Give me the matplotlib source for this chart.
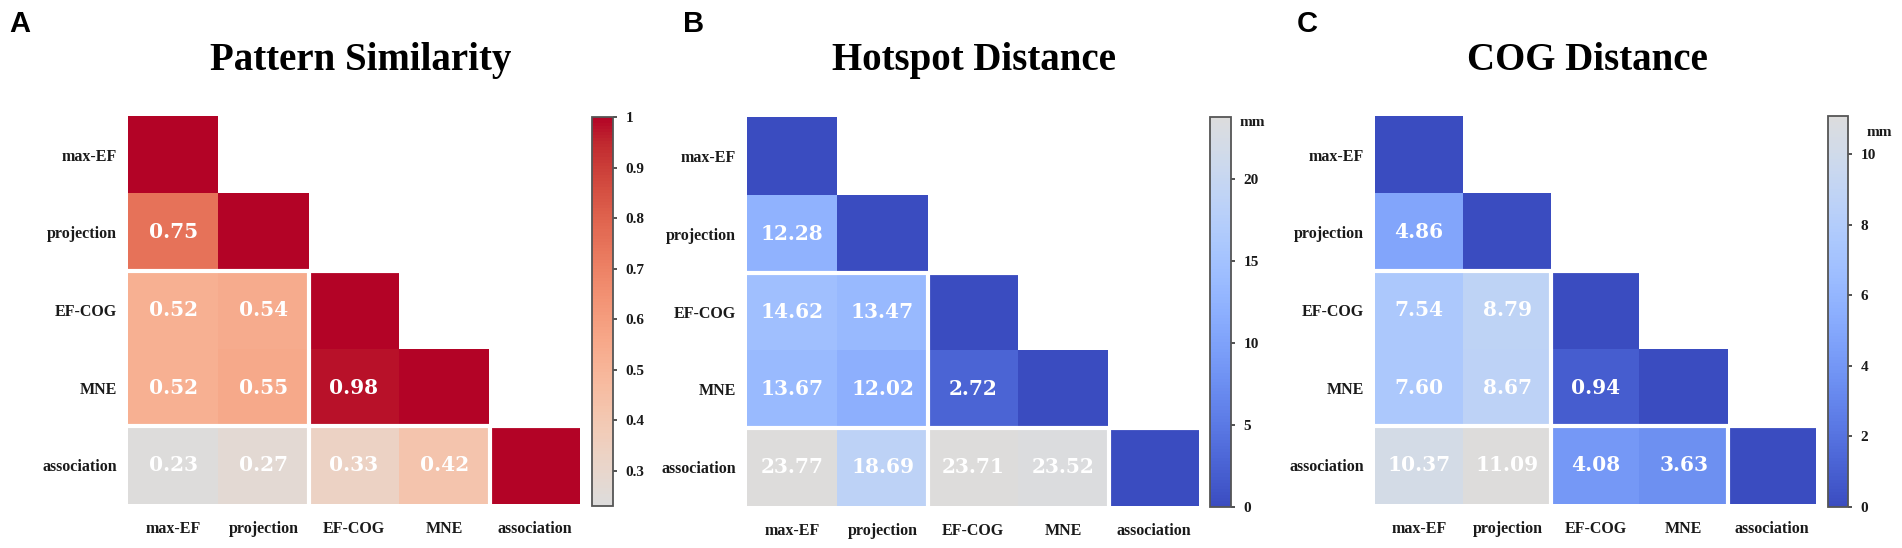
import numpy as np
import matplotlib
matplotlib.use('Agg')
import matplotlib.pyplot as plt
from matplotlib.colors import ListedColormap

# ---------------- data ----------------
labels = ['max-EF', 'projection', 'EF-COG', 'MNE', 'association']

pattern_similarity = [[1.00],
                      [0.75, 1.00],
                      [0.52, 0.54, 1.00],
                      [0.52, 0.55, 0.98, 1.00],
                      [0.23, 0.27, 0.33, 0.42, 1.00]]

hotspot_distance = [[0.00],
                    [12.28, 0.00],
                    [14.62, 13.47, 0.00],
                    [13.67, 12.02, 2.72, 0.00],
                    [23.77, 18.69, 23.71, 23.52, 0.00]]

cog_distance = [[0.00],
                [4.86, 0.00],
                [7.54, 8.79, 0.00],
                [7.60, 8.67, 0.94, 0.00],
                [10.37, 11.09, 4.08, 3.63, 0.00]]

titles = ['Pattern Similarity', 'Hotspot Distance', 'COG Distance']
panel_letters = ['A', 'B', 'C']
cbar_ticks_A = [0.3, 0.4, 0.5, 0.6, 0.7, 0.8, 0.9, 1.0]
cbar_labels_A = ['0.3', '0.4', '0.5', '0.6', '0.7', '0.8', '0.9', '1']
cbar_ticks_B = [0, 5, 10, 15, 20]
cbar_ticks_C = [0, 2, 4, 6, 8, 10]
group_bounds = [2, 4]

# ---------------- style ----------------
W, H = 1902, 548
fig = plt.figure(figsize=(W / 100, H / 100), dpi=100)

cw = plt.get_cmap('coolwarm')
red_cmap = ListedColormap(cw(np.linspace(0.5, 1.0, 256)))
blue_cmap = ListedColormap(cw(np.linspace(0.0, 0.5, 256)))

SERIF = ['Liberation Serif', 'DejaVu Serif']
ANNOT = ['DejaVu Serif']


def px(x0, y0, x1, y1):
    return [x0 / W, 1 - y1 / H, (x1 - x0) / W, (y1 - y0) / H]


def to_matrix(rows):
    n = len(labels)
    m = np.full((n, n), np.nan)
    for i, r in enumerate(rows):
        for j, v in enumerate(r):
            m[i, j] = v
    return m


panels = [
    dict(data=pattern_similarity, cmap=red_cmap, vmin=0.23, vmax=1.0,
         heat=(128, 116, 580, 504), cbar=(592, 117, 613, 506),
         title_x=361, letter_x=9, ticks=cbar_ticks_A, ticklabels=cbar_labels_A,
         unit=None),
    dict(data=hotspot_distance, cmap=blue_cmap, vmin=0.0, vmax=23.77,
         heat=(747, 117, 1199, 506), cbar=(1210, 117, 1231, 507),
         title_x=974, letter_x=683, ticks=cbar_ticks_B,
         ticklabels=[str(t) for t in cbar_ticks_B], unit=(9, 5)),
    dict(data=cog_distance, cmap=blue_cmap, vmin=0.0, vmax=11.09,
         heat=(1375, 116, 1816, 504), cbar=(1828, 116, 1848, 507),
         title_x=1587, letter_x=1297, ticks=cbar_ticks_C,
         ticklabels=[str(t) for t in cbar_ticks_C], unit=(19, 17)),
]

n = len(labels)
for k, p in enumerate(panels):
    m = to_matrix(p['data'])
    ax = fig.add_axes(px(*p['heat']))
    im = ax.imshow(np.ma.masked_invalid(m), cmap=p['cmap'], vmin=p['vmin'], vmax=p['vmax'],
                   extent=(0, n, n, 0), aspect='auto', interpolation='nearest')
    ax.set_xlim(0, n)
    ax.set_ylim(n, 0)
    for s in ax.spines.values():
        s.set_visible(False)
    ax.set_xticks(np.arange(n) + 0.5)
    ax.set_yticks(np.arange(n) + 0.5)
    ax.set_xticklabels(labels, family=SERIF, fontweight='bold', fontsize=11.5, color='#1a1a1a')
    ax.set_yticklabels(labels, family=SERIF, fontweight='bold', fontsize=11.5, color='#1a1a1a')
    ax.tick_params(axis='both', length=0)
    ax.tick_params(axis='x', pad=12)
    ax.tick_params(axis='y', pad=8)

    # annotations (off-diagonal)
    for i in range(n):
        for j in range(i):
            ax.text(j + 0.5, i + 0.5, f'{m[i, j]:.2f}', ha='center', va='center',
                    color='white', family=ANNOT, fontweight='bold', fontsize=14.5)

    # white group separators
    for b in group_bounds:
        ax.plot([0, b + 1], [b, b], color='white', lw=3, solid_capstyle='butt', zorder=5)
        ax.plot([b, b], [b, n], color='white', lw=3, solid_capstyle='butt', zorder=5)

    # colorbar
    cax = fig.add_axes(px(*p['cbar']))
    cb = fig.colorbar(im, cax=cax)
    cb.outline.set_linewidth(1.3)
    cb.outline.set_edgecolor('#555555')
    cb.set_ticks(p['ticks'])
    cb.set_ticklabels(p['ticklabels'])
    cax.tick_params(axis='y', length=3, width=1.2, color='#333333', pad=6)
    for t in cax.get_yticklabels():
        t.set_family(SERIF)
        t.set_fontweight('bold')
        t.set_fontsize(11)
        t.set_color('#1a1a1a')
    if p['unit'] is not None:
        dx, dy = p['unit']
        x1 = p['cbar'][2] + dx
        y1 = p['cbar'][1] + dy
        fig.text(x1 / W, 1 - y1 / H, 'mm', ha='left', va='center', family=SERIF,
                 fontweight='bold', fontsize=11, color='#1a1a1a')

    # title and panel letter
    fig.text(p['title_x'] / W, 1 - 70 / H, titles[k], ha='center', va='baseline',
             family=SERIF, fontweight='bold', fontsize=28, color='black')
    fig.text(p['letter_x'] / W, 1 - 32 / H, panel_letters[k], ha='left', va='baseline',
             family=['Liberation Sans', 'DejaVu Sans'], fontweight='bold', fontsize=21,
             color='black')

fig.savefig('out.png', dpi=100, facecolor='white')
